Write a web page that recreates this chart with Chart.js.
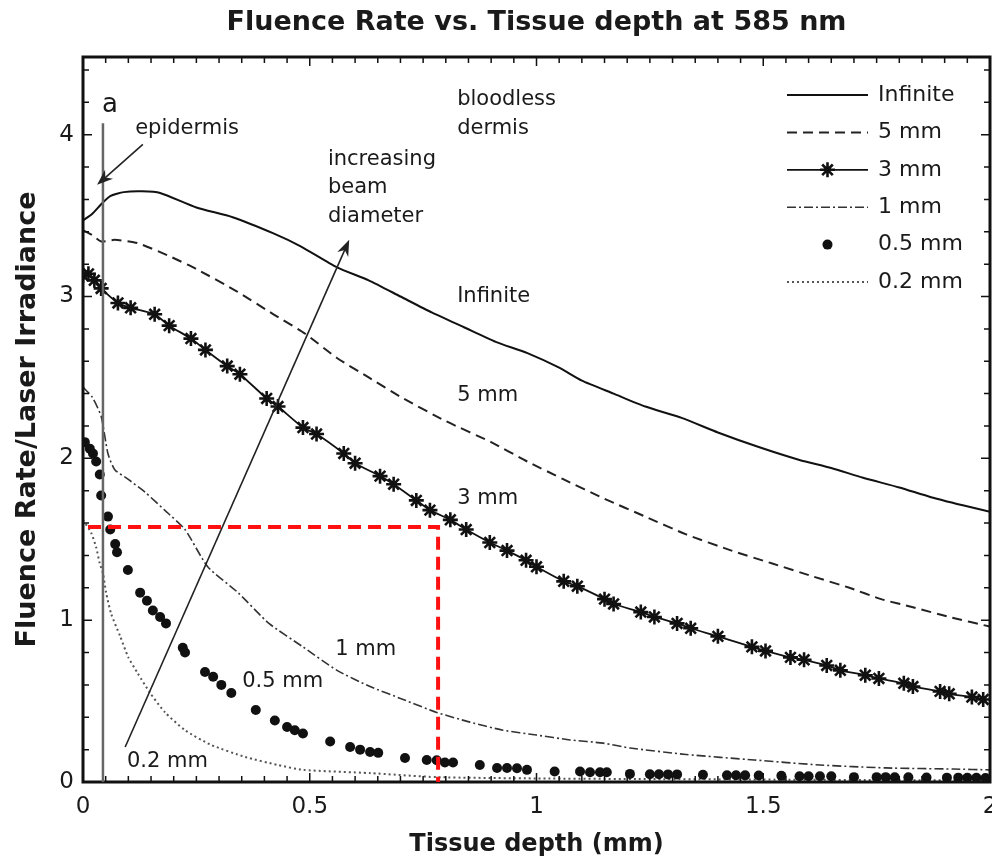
<!DOCTYPE html>
<html>
<head>
<meta charset="utf-8">
<script src="https://cdn.jsdelivr.net/npm/chart.js@4.4.0/dist/chart.umd.min.js"></script>
<style>
  html, body { margin: 0; padding: 0; background: #fff; }
  #wrap { width: 992px; height: 863px; }
</style>
</head>
<body>
<div id="wrap"><canvas id="chart"></canvas></div>
<script>
// depth (mm) and fluence rate / irradiance
const depthInf = [0, 0.02, 0.04, 0.06, 0.09, 0.13, 0.17, 0.25, 0.33, 0.42, 0.48, 0.56, 0.63, 0.70, 0.77, 0.84, 0.91, 0.98, 1.05, 1.10, 1.17, 1.24, 1.32, 1.40, 1.49, 1.58, 1.65, 1.72, 1.80, 1.87, 1.94, 2.0]
const fluenceInf = [3.47, 3.51, 3.57, 3.62, 3.645, 3.65, 3.64, 3.55, 3.49, 3.39, 3.31, 3.18, 3.10, 3.0, 2.90, 2.81, 2.72, 2.65, 2.56, 2.48, 2.40, 2.32, 2.25, 2.16, 2.07, 1.99, 1.94, 1.88, 1.82, 1.76, 1.71, 1.67]

const depth5 = [0, 0.02, 0.04, 0.07, 0.12, 0.19, 0.25, 0.34, 0.42, 0.49, 0.56, 0.63, 0.70, 0.80, 0.90, 0.98, 1.06, 1.15, 1.24, 1.33, 1.43, 1.52, 1.61, 1.69, 1.76, 1.83, 1.91, 2.0]
const fluence5 = [3.41, 3.38, 3.34, 3.35, 3.33, 3.25, 3.17, 3.03, 2.89, 2.77, 2.62, 2.50, 2.38, 2.23, 2.10, 1.98, 1.87, 1.75, 1.64, 1.53, 1.43, 1.35, 1.27, 1.20, 1.13, 1.08, 1.02, 0.96]

const depth3 = [0, 0.012, 0.025, 0.04, 0.077, 0.105, 0.158, 0.19, 0.238, 0.27, 0.318, 0.346, 0.405, 0.43, 0.485, 0.515, 0.575, 0.60, 0.655, 0.685, 0.735, 0.765, 0.81, 0.845, 0.897, 0.935, 0.977, 1.0, 1.06, 1.09, 1.15, 1.17, 1.23, 1.26, 1.31, 1.34, 1.40, 1.475, 1.505, 1.56, 1.59, 1.64, 1.67, 1.725, 1.755, 1.81, 1.83, 1.89, 1.91, 1.96, 1.985]
const fluence3 = [3.13, 3.14, 3.10, 3.05, 2.96, 2.93, 2.89, 2.82, 2.74, 2.67, 2.57, 2.52, 2.37, 2.32, 2.19, 2.15, 2.03, 1.97, 1.89, 1.84, 1.74, 1.68, 1.62, 1.56, 1.48, 1.43, 1.37, 1.33, 1.24, 1.21, 1.13, 1.10, 1.05, 1.02, 0.98, 0.95, 0.90, 0.835, 0.81, 0.77, 0.755, 0.72, 0.69, 0.66, 0.64, 0.61, 0.59, 0.56, 0.545, 0.525, 0.51]

const depth1 = [0, 0.02, 0.04, 0.055, 0.07, 0.10, 0.137, 0.18, 0.225, 0.275, 0.342, 0.41, 0.485, 0.56, 0.633, 0.706, 0.78, 0.853, 0.926, 1.0, 1.074, 1.147, 1.206, 1.33, 1.48, 1.625, 1.77, 1.92, 2.0]
const fluence1 = [2.44, 2.38, 2.26, 2.03, 1.93, 1.87, 1.79, 1.68, 1.56, 1.33, 1.17, 0.98, 0.835, 0.69, 0.59, 0.51, 0.43, 0.37, 0.32, 0.29, 0.26, 0.24, 0.21, 0.17, 0.136, 0.105, 0.087, 0.08, 0.075]

const depthHalf = [0.004, 0.015, 0.022, 0.029, 0.037, 0.04, 0.055, 0.06, 0.071, 0.075, 0.099, 0.126, 0.141, 0.154, 0.17, 0.183, 0.22, 0.225, 0.269, 0.287, 0.305, 0.327, 0.381, 0.423, 0.45, 0.467, 0.485, 0.545, 0.589, 0.611, 0.633, 0.651, 0.71, 0.758, 0.78, 0.798, 0.816, 0.875, 0.913, 0.935, 0.957, 0.979, 1.04, 1.096, 1.118, 1.14, 1.155, 1.206, 1.25, 1.27, 1.29, 1.31, 1.367, 1.42, 1.44, 1.46, 1.49, 1.54, 1.58, 1.60, 1.625, 1.65, 1.70, 1.75, 1.77, 1.79, 1.82, 1.86, 1.905, 1.93, 1.95, 1.97, 1.99]
const fluenceHalf = [2.10, 2.06, 2.03, 1.98, 1.90, 1.77, 1.64, 1.56, 1.47, 1.42, 1.31, 1.17, 1.12, 1.06, 1.02, 0.98, 0.83, 0.80, 0.68, 0.65, 0.60, 0.55, 0.445, 0.38, 0.34, 0.32, 0.30, 0.25, 0.216, 0.20, 0.185, 0.18, 0.148, 0.136, 0.134, 0.12, 0.12, 0.105, 0.087, 0.087, 0.085, 0.075, 0.065, 0.065, 0.06, 0.06, 0.06, 0.05, 0.048, 0.048, 0.047, 0.047, 0.045, 0.042, 0.042, 0.041, 0.04, 0.038, 0.036, 0.036, 0.035, 0.035, 0.03, 0.03, 0.03, 0.029, 0.029, 0.028, 0.027, 0.027, 0.026, 0.026, 0.025]

const depth02 = [0, 0.018, 0.029, 0.037, 0.044, 0.051, 0.062, 0.082, 0.10, 0.121, 0.148, 0.181, 0.225, 0.282, 0.357, 0.43, 0.485, 0.633, 0.78, 1.0, 1.25, 1.5, 1.75, 2.0]
const fluence02 = [1.62, 1.54, 1.45, 1.35, 1.29, 1.17, 1.04, 0.90, 0.77, 0.67, 0.55, 0.43, 0.32, 0.23, 0.155, 0.105, 0.075, 0.055, 0.03, 0.022, 0.018, 0.015, 0.012, 0.01]

const seriesNames = ['Infinite', '5 mm', '3 mm', '1 mm', '0.5 mm', '0.2 mm']

const pts = (xs, ys) => xs.map((x, i) => ({ x: x, y: ys[i] }))

const FONT = 'DejaVu Sans'
const INK = '#1a1a1a'

// frame, inward ticks on all four sides, and the title centred over the plot
const framePlugin = {
  id: 'frame',
  afterDatasetsDraw(chart) {
    const { ctx, chartArea: a, scales: { x, y } } = chart
    ctx.save()
    ctx.strokeStyle = '#111'
    ctx.lineWidth = 1.5
    for (let i = 0; i <= 40; i++) {
      const v = i * 0.05
      const len = i % 10 === 0 ? 9 : 6
      const px = x.getPixelForValue(v)
      ctx.beginPath()
      ctx.moveTo(px, a.bottom); ctx.lineTo(px, a.bottom - len)
      ctx.moveTo(px, a.top); ctx.lineTo(px, a.top + len)
      ctx.stroke()
    }
    for (let i = 0; i <= 22; i++) {
      const v = i * 0.2
      const len = i % 5 === 0 ? 9 : 6
      const py = y.getPixelForValue(v)
      ctx.beginPath()
      ctx.moveTo(a.left, py); ctx.lineTo(a.left + len, py)
      ctx.moveTo(a.right, py); ctx.lineTo(a.right - len, py)
      ctx.stroke()
    }
    ctx.lineWidth = 3
    ctx.strokeRect(a.left, a.top, a.right - a.left, a.bottom - a.top)

    ctx.fillStyle = INK
    ctx.font = 'bold 27px ' + FONT
    ctx.textAlign = 'center'
    ctx.textBaseline = 'middle'
    ctx.fillText('Fluence Rate vs. Tissue depth at 585 nm', (a.left + a.right) / 2, 23)
    ctx.restore()
  }
}

function arrow(ctx, x1, y1, x2, y2) {
  const c = Math.cos(Math.atan2(y2 - y1, x2 - x1))
  const s = Math.sin(Math.atan2(y2 - y1, x2 - x1))
  ctx.beginPath()
  ctx.moveTo(x1, y1)
  ctx.lineTo(x2 - 8 * c, y2 - 8 * s)
  ctx.stroke()
  ctx.beginPath()
  ctx.moveTo(x2, y2)
  ctx.lineTo(x2 - 16 * c + 6 * s, y2 - 16 * s - 6 * c)
  ctx.lineTo(x2 - 11 * c, y2 - 11 * s)
  ctx.lineTo(x2 - 16 * c - 6 * s, y2 - 16 * s + 6 * c)
  ctx.closePath()
  ctx.fill()
}

const notesPlugin = {
  id: 'notes',
  afterDatasetsDraw(chart) {
    const { ctx, scales: { x, y } } = chart
    const X = v => x.getPixelForValue(v)
    const Y = v => y.getPixelForValue(v)
    ctx.save()

    // epidermis boundary
    ctx.strokeStyle = '#666'
    ctx.lineWidth = 2.5
    ctx.beginPath()
    ctx.moveTo(X(0.044), Y(4.07))
    ctx.lineTo(X(0.044), Y(0))
    ctx.stroke()

    // arrows
    ctx.strokeStyle = '#222'
    ctx.fillStyle = '#222'
    ctx.lineWidth = 1.6
    arrow(ctx, X(0.132), Y(3.94), X(0.031), Y(3.69))
    arrow(ctx, X(0.093), Y(0.216), X(0.587), Y(3.35))

    // red dashed guide
    ctx.strokeStyle = '#ff1010'
    ctx.lineWidth = 4
    ctx.setLineDash([13, 7])
    ctx.beginPath()
    ctx.moveTo(X(0.011), Y(1.576))
    ctx.lineTo(X(0.783), Y(1.576))
    ctx.lineTo(X(0.783), Y(0))
    ctx.stroke()
    ctx.setLineDash([])

    // text
    ctx.fillStyle = INK
    ctx.textAlign = 'left'
    ctx.textBaseline = 'middle'
    ctx.font = '26px ' + FONT
    ctx.fillText('a', X(0.042), Y(4.18))
    ctx.font = '21px ' + FONT
    const labels = [
      ['epidermis', 0.115, 4.04],
      ['bloodless', 0.825, 4.22],
      ['dermis', 0.825, 4.04],
      ['increasing', 0.54, 3.845],
      ['beam', 0.54, 3.672],
      ['diameter', 0.54, 3.493],
      ['Infinite', 0.825, 3.0],
      ['5 mm', 0.825, 2.386],
      ['3 mm', 0.825, 1.75],
      ['1 mm', 0.556, 0.816],
      ['0.5 mm', 0.351, 0.618],
      ['0.2 mm', 0.097, 0.124]
    ]
    labels.forEach(([t, vx, vy]) => ctx.fillText(t, X(vx), Y(vy)))
    ctx.restore()
  }
}

const legendPlugin = {
  id: 'cornerLegend',
  afterDraw(chart) {
    const { ctx, chartArea: a } = chart
    const x1 = a.right - 203, x2 = a.right - 122, tx = a.right - 112
    ctx.save()
    ctx.font = '22px ' + FONT
    ctx.textBaseline = 'middle'
    chart.data.datasets.forEach((ds, i) => {
      const yy = a.top + 38 + i * 37.4
      ctx.strokeStyle = ds.borderColor
      ctx.fillStyle = ds.borderColor
      if (ds.showLine !== false) {
        ctx.lineWidth = ds.borderWidth
        ctx.setLineDash(ds.borderDash || [])
        ctx.beginPath()
        ctx.moveTo(x1, yy); ctx.lineTo(x2, yy)
        ctx.stroke()
        ctx.setLineDash([])
      }
      if (ds.pointRadius > 0) {
        ctx.lineWidth = ds.pointBorderWidth || 1
        ctx.fillStyle = ds.pointBackgroundColor
        Chart.helpers.drawPoint(ctx, { pointStyle: ds.pointStyle, radius: ds.pointRadius, borderWidth: ds.pointBorderWidth || 0, rotation: 0 }, (x1 + x2) / 2, yy)
      }
      ctx.fillStyle = INK
      ctx.fillText(ds.label, tx, yy)
    })
    ctx.restore()
  }
}

new Chart(document.getElementById('chart'), {
  type: 'scatter',
  data: {
    datasets: [
      { label: seriesNames[0], data: pts(depthInf, fluenceInf), showLine: true, borderColor: '#111', borderWidth: 2, pointRadius: 0, tension: 0.2 },
      { label: seriesNames[1], data: pts(depth5, fluence5), showLine: true, borderColor: '#222', borderWidth: 2, borderDash: [10, 6], pointRadius: 0, tension: 0.2 },
      { label: seriesNames[2], data: pts(depth3, fluence3), showLine: true, borderColor: '#111', borderWidth: 1.8, pointRadius: 7.5, pointStyle: 'star', pointBorderWidth: 2.6, pointBorderColor: '#111', pointBackgroundColor: '#111', tension: 0.2 },
      { label: seriesNames[3], data: pts(depth1, fluence1), showLine: true, borderColor: '#333', borderWidth: 1.6, borderDash: [9, 3, 2, 3], pointRadius: 0, tension: 0.2 },
      { label: seriesNames[4], data: pts(depthHalf, fluenceHalf), showLine: false, borderColor: '#111', pointRadius: 5, pointStyle: 'circle', pointBackgroundColor: '#111', pointBorderWidth: 0 },
      { label: seriesNames[5], data: pts(depth02, fluence02), showLine: true, borderColor: '#555', borderWidth: 2, borderDash: [2, 3], pointRadius: 0, tension: 0.2 }
    ]
  },
  options: {
    responsive: true,
    maintainAspectRatio: false,
    animation: false,
    layout: { padding: { top: 57, right: 2, bottom: 0, left: 0 }, autoPadding: false },
    plugins: {
      legend: { display: false },
      tooltip: { enabled: false },
      title: { display: false }
    },
    scales: {
      x: {
        type: 'linear',
        min: 0,
        max: 2,
        grid: { display: false, drawTicks: false },
        border: { display: false },
        ticks: { stepSize: 0.5, color: INK, padding: 11, maxRotation: 0, font: { family: FONT, size: 23 }, callback: v => String(v) },
        title: { display: true, text: 'Tissue depth (mm)', color: INK, font: { family: FONT, size: 24, weight: 'bold' }, padding: { top: 0, bottom: 4 } },
        afterFit: s => { s.height = 81; s.paddingLeft = 0; s.paddingRight = 0 }
      },
      y: {
        type: 'linear',
        min: 0,
        max: 4.48,
        grid: { display: false, drawTicks: false },
        border: { display: false },
        ticks: { stepSize: 1, includeBounds: false, color: INK, padding: 9, font: { family: FONT, size: 23 } },
        title: { display: true, text: 'Fluence Rate/Laser Irradiance', color: INK, font: { family: FONT, size: 27, weight: 'bold' }, padding: { top: 12, bottom: 0 } },
        afterFit: s => { s.width = 83; s.paddingTop = 0; s.paddingBottom = 0 }
      }
    }
  },
  plugins: [framePlugin, notesPlugin, legendPlugin]
})
</script>
</body>
</html>
